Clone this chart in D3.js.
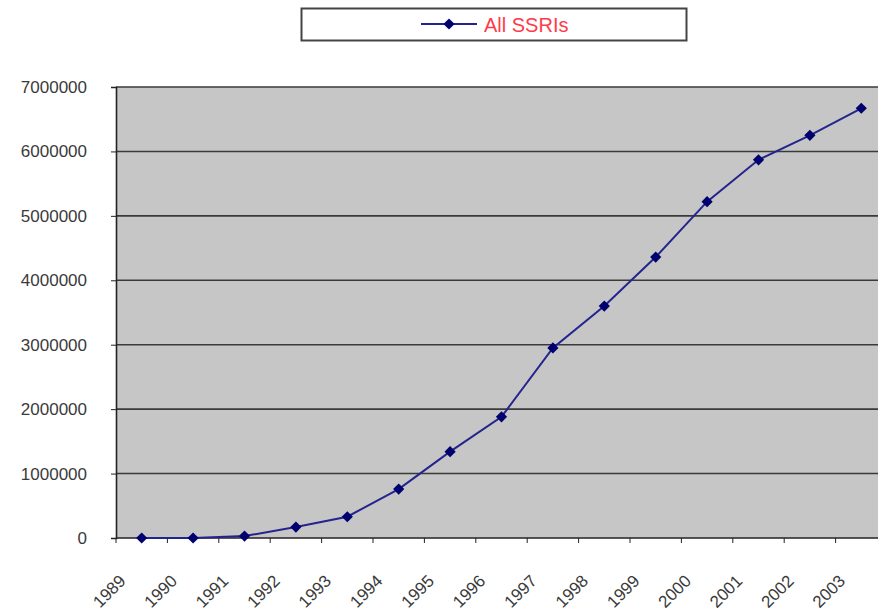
<!DOCTYPE html>
<html>
<head>
<meta charset="utf-8">
<script src="https://d3js.org/d3.v7.min.js"></script>
<style>
  body { margin: 0; background: #fff; }
  svg { display: block; }
  .tick text { font-family: Arial, "Liberation Sans", sans-serif; font-size: 17px; fill: #3a3a3a; }
</style>
</head>
<body>
<div id="chart"></div>
<script>
// years and prescription counts
var years = ["1989", "1990", "1991", "1992", "1993", "1994", "1995", "1996",
             "1997", "1998", "1999", "2000", "2001", "2002", "2003"];
var ssris = [0, 0, 30000, 170000, 330000, 760000, 1340000, 1880000,
             2950000, 3600000, 4360000, 5220000, 5870000, 6250000, 6670000];
var yTicks = [0, 1000000, 2000000, 3000000, 4000000, 5000000, 6000000, 7000000];
var seriesName = "All SSRIs";

var width = 878, height = 613;
var plotLeft = 116, plotTop = 87, plotW = 771, plotH = 451;

var svg = d3.select("#chart").append("svg")
    .attr("width", width)
    .attr("height", height);

var x = d3.scaleBand().domain(years).range([plotLeft, plotLeft + plotW]);
var y = d3.scaleLinear().domain([0, 7000000]).range([plotTop + plotH, plotTop]);

// plot background
svg.append("rect")
    .attr("x", plotLeft).attr("y", plotTop)
    .attr("width", plotW).attr("height", plotH)
    .attr("fill", "#c6c6c6");

// gridlines
svg.append("g").selectAll("line")
    .data(yTicks.slice(1))
    .enter().append("line")
    .attr("x1", plotLeft).attr("x2", plotLeft + plotW)
    .attr("y1", function(d) { return y(d); })
    .attr("y2", function(d) { return y(d); })
    .attr("stroke", "#3a3a3a")
    .attr("stroke-width", 1.6);

// y axis
var yAxis = svg.append("g")
    .attr("transform", "translate(" + plotLeft + ",0)")
    .call(d3.axisLeft(y).tickValues(yTicks).tickFormat(d3.format("d")).tickSize(5).tickPadding(24));
yAxis.select(".domain").attr("stroke", "#222").attr("stroke-width", 1.6);
yAxis.selectAll(".tick line").attr("stroke", "#222");

// x axis, ticks on category boundaries
var xAxis = svg.append("g")
    .attr("transform", "translate(0," + (plotTop + plotH) + ")");
xAxis.append("line")
    .attr("x1", plotLeft).attr("x2", plotLeft + plotW)
    .attr("stroke", "#222").attr("stroke-width", 1.6);
xAxis.selectAll(".xt")
    .data(years)
    .enter().append("line")
    .attr("class", "xt")
    .attr("x1", function(d) { return x(d); })
    .attr("x2", function(d) { return x(d); })
    .attr("y1", 0).attr("y2", 5)
    .attr("stroke", "#222");
xAxis.selectAll(".xl")
    .data(years)
    .enter().append("text")
    .attr("class", "xl")
    .attr("transform", function(d) {
        return "translate(" + (x(d) + x.bandwidth() / 2 - 15) + ",44) rotate(-45)";
    })
    .attr("text-anchor", "end")
    .attr("font-family", "Arial, 'Liberation Sans', sans-serif")
    .attr("font-size", 17)
    .attr("fill", "#3a3a3a")
    .text(function(d) { return d; });

// the series
var pts = years.map(function(d, i) { return { year: d, value: ssris[i] }; });
var line = d3.line()
    .x(function(d) { return x(d.year) + x.bandwidth() / 2; })
    .y(function(d) { return y(d.value); });

svg.append("path")
    .datum(pts)
    .attr("d", line)
    .attr("fill", "none")
    .attr("stroke", "#24248e")
    .attr("stroke-width", 2);

var diamond = d3.symbol().type(d3.symbolDiamond2).size(80);
svg.selectAll(".pt")
    .data(pts)
    .enter().append("path")
    .attr("class", "pt")
    .attr("d", diamond)
    .attr("transform", function(d) {
        return "translate(" + (x(d.year) + x.bandwidth() / 2) + "," + y(d.value) + ")";
    })
    .attr("fill", "#00006e");

// legend
var lg = svg.append("g");
lg.append("rect")
    .attr("x", 301.5).attr("y", 8.5)
    .attr("width", 385).attr("height", 32)
    .attr("fill", "#fff")
    .attr("stroke", "#444")
    .attr("stroke-width", 2);
lg.append("line")
    .attr("x1", 421).attr("x2", 477)
    .attr("y1", 24).attr("y2", 24)
    .attr("stroke", "#24248e").attr("stroke-width", 2);
lg.append("path")
    .attr("d", diamond)
    .attr("transform", "translate(449,24)")
    .attr("fill", "#00006e");
lg.append("text")
    .attr("x", 484).attr("y", 32)
    .attr("font-family", "Arial, 'Liberation Sans', sans-serif")
    .attr("font-size", 20)
    .attr("fill", "#ff3b4a")
    .text(seriesName);
</script>
</body>
</html>
